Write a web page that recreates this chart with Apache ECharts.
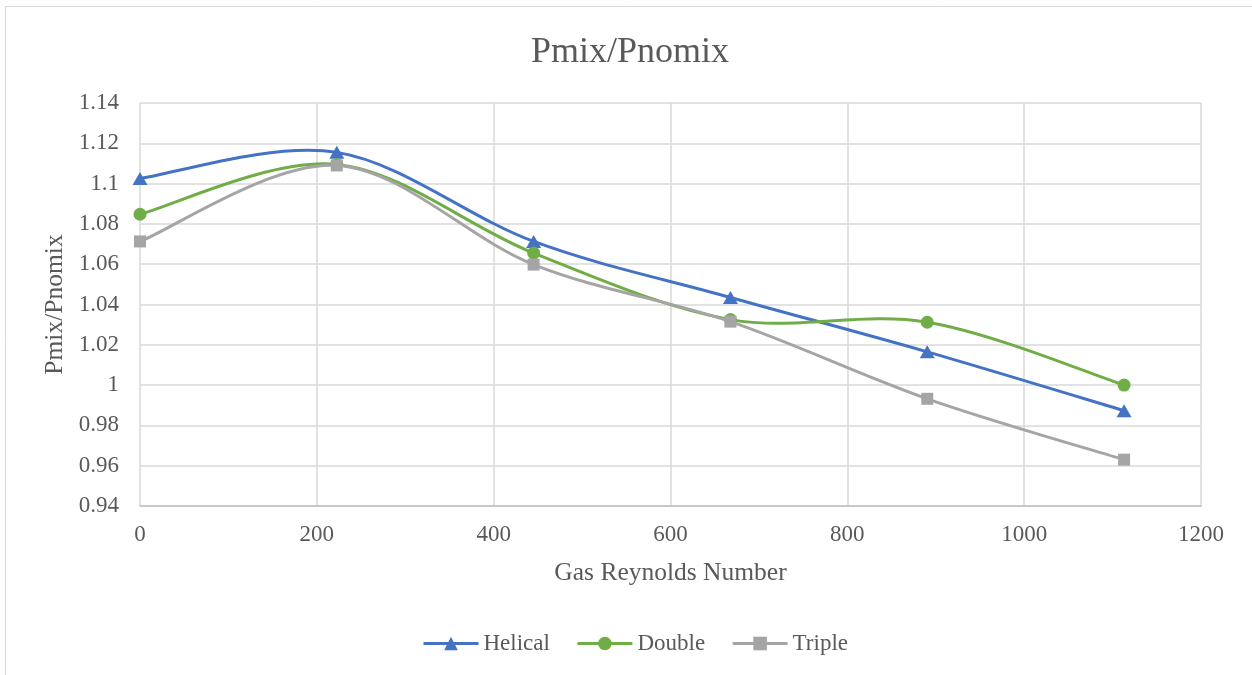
<!DOCTYPE html>
<html>
<head>
<meta charset="utf-8">
<script src="https://cdn.jsdelivr.net/npm/echarts@6/dist/echarts.min.js"></script>
<style>
  html, body { margin: 0; padding: 0; background: #fff; }
  #main { width: 1252px; height: 675px; }
</style>
</head>
<body>
<div id="main"></div>
<script>
// Gas Reynolds Number (x) for each measured point
const reynolds = [0, 222.6, 445.2, 667.8, 890.4, 1113]
// Pmix/Pnomix for each mixer
const helical = [1.1025, 1.1155, 1.0713, 1.0435, 1.0165, 0.9873]
const double = [1.0848, 1.1095, 1.0655, 1.0325, 1.0312, 1.0]
const triple = [1.0713, 1.109, 1.0598, 1.0315, 0.9932, 0.963]
// axis ticks
const xTicks = [0, 200, 400, 600, 800, 1000, 1200]
const yTicks = [0.94, 0.96, 0.98, 1, 1.02, 1.04, 1.06, 1.08, 1.1, 1.12, 1.14]

const serif = 'Liberation Serif, Times New Roman, serif'
const pairs = ys => reynolds.map((x, i) => [x, ys[i]])

// Excel style smoothed line: bezier segments, control points at p +- (next - prev) / 6
function smoothCurve (name, ys, color, z) {
	let data = pairs(ys)
	return {
		name: name + ' curve',
		type: 'custom',
		data: data,
		z: z,
		silent: true,
		renderItem: function (params, api) {
			let i = params.dataIndex
			if (i >= data.length - 1) return null
			let pts = data.map(d => api.coord(d))
			let p0 = pts[Math.max(i - 1, 0)]
			let p1 = pts[i]
			let p2 = pts[i + 1]
			let p3 = pts[Math.min(i + 2, pts.length - 1)]
			return {
				type: 'bezierCurve',
				shape: {
					x1: p1[0], y1: p1[1],
					x2: p2[0], y2: p2[1],
					cpx1: p1[0] + (p2[0] - p0[0]) / 6,
					cpy1: p1[1] + (p2[1] - p0[1]) / 6,
					cpx2: p2[0] - (p3[0] - p1[0]) / 6,
					cpy2: p2[1] - (p3[1] - p1[1]) / 6
				},
				style: { fill: null, stroke: color, lineWidth: 3, lineCap: 'round' }
			}
		}
	}
}

function markers (name, ys, color, symbol, size, z) {
	return {
		name: name,
		type: 'line',
		data: pairs(ys),
		symbol: symbol,
		symbolSize: size,
		lineStyle: { color: color, width: 3, opacity: 0 },
		itemStyle: { color: color },
		z: z
	}
}

let myChart = echarts.init(document.getElementById('main'))
let option = {
	animation: false,
	textStyle: { fontFamily: serif },
	title: {
		text: 'Pmix/Pnomix',
		left: 526,
		top: 30,
		textStyle: { fontFamily: serif, fontSize: 36, fontWeight: 'normal', color: '#595959' }
	},
	graphic: [{
		type: 'rect',
		shape: { x: 5.5, y: 6.5, width: 1300, height: 700 },
		style: { fill: 'none', stroke: '#d9d9d9', lineWidth: 1 },
		silent: true
	}],
	legend: {
		bottom: 15,
		left: 417,
		itemWidth: 55,
		itemHeight: 17,
		itemGap: 26,
		textStyle: { fontFamily: serif, fontSize: 23, color: '#595959' },
		data: [
			{ name: 'Helical', lineStyle: { color: '#4472C4', width: 3, opacity: 1 } },
			{ name: 'Double', lineStyle: { color: '#70AD47', width: 3, opacity: 1 } },
			{ name: 'Triple', lineStyle: { color: '#A5A5A5', width: 3, opacity: 1 } }
		]
	},
	grid: { left: 140, right: 51, top: 103, bottom: 169 },
	xAxis: {
		type: 'value',
		min: xTicks[0],
		max: xTicks[xTicks.length - 1],
		interval: xTicks[1] - xTicks[0],
		name: 'Gas Reynolds Number',
		nameLocation: 'middle',
		nameGap: 54,
		nameTextStyle: { fontFamily: serif, fontSize: 25.5, color: '#595959' },
		axisLine: { show: true, lineStyle: { color: '#bfbfbf', width: 1.5 } },
		axisTick: { show: false },
		axisLabel: {
			fontFamily: serif, fontSize: 23, color: '#595959', margin: 17,
			formatter: v => String(v)
		},
		splitLine: { show: true, lineStyle: { color: '#d9d9d9', width: 1.5 } }
	},
	yAxis: {
		type: 'value',
		min: yTicks[0],
		max: yTicks[yTicks.length - 1],
		interval: 0.02,
		name: 'Pmix/Pnomix',
		nameLocation: 'middle',
		nameGap: 70,
		nameRotate: 90,
		nameTextStyle: { fontFamily: serif, fontSize: 25.5, color: '#595959' },
		axisLine: { show: false },
		axisTick: { show: false },
		axisLabel: {
			fontFamily: serif, fontSize: 23, color: '#595959', margin: 21,
			formatter: v => String(Number(v.toFixed(2)))
		},
		splitLine: { show: true, lineStyle: { color: '#d9d9d9', width: 1.5 } }
	},
	series: [
		smoothCurve('Helical', helical, '#4472C4', 2),
		markers('Helical', helical, '#4472C4', 'triangle', [15, 13], 2),
		smoothCurve('Double', double, '#70AD47', 3),
		markers('Double', double, '#70AD47', 'circle', 13, 3),
		smoothCurve('Triple', triple, '#A5A5A5', 4),
		markers('Triple', triple, '#A5A5A5', 'rect', 12, 4)
	]
}
myChart.setOption(option)
</script>
</body>
</html>
